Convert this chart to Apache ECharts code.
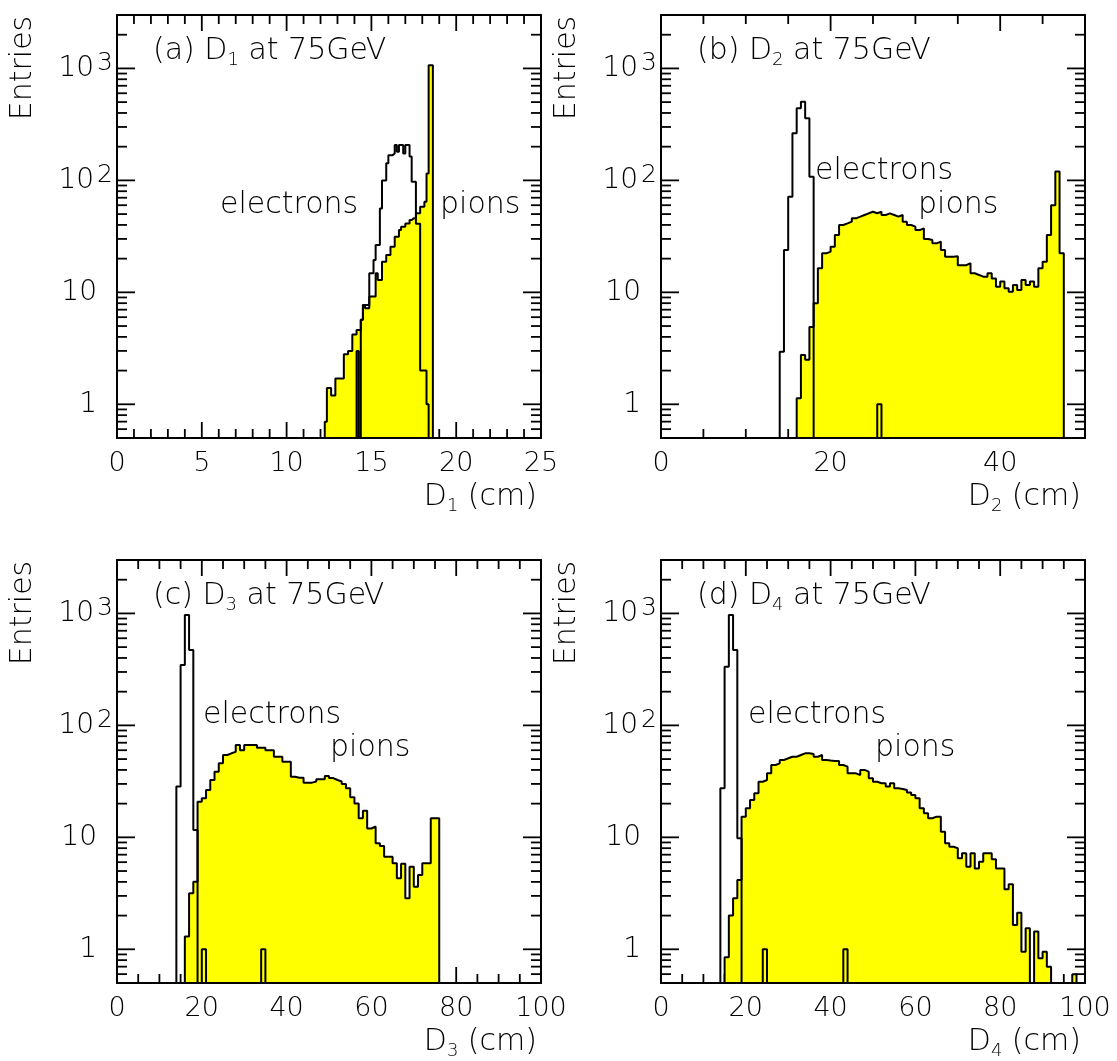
<!DOCTYPE html>
<html>
<head>
<meta charset="utf-8">
<title>D1-D4 distributions at 75 GeV</title>
<script src="https://cdn.jsdelivr.net/npm/echarts@6/dist/echarts.min.js"></script>
<style>
  html, body { margin: 0; padding: 0; background: #ffffff; }
  #chart { width: 1117px; height: 1061px; }
</style>
</head>
<body>
<div id="chart"></div>
<script>
// ---------------------------------------------------------------
// Histogram contents. Each array holds bin contents; bin i covers
// [start + i*width, start + (i+1)*width). Empty bins are 0.
// ---------------------------------------------------------------
const d1Start = 12, d1Width = 0.125;
const d1Electrons = [0,0,0,0,0,0,0,0,0,0,0,0,0,0,0,0,0, 3.0, 0, 5.7,7.7,
  7.7,7.7,14.8,14.8,19.4,26.5,26.5,56,100,100,142,168,168,174,207,180,207,207,174,207,
  207,163,97,97,41,41,2.0,2.0,2.0,1.0, 0,0,0,0,0];
const d1Pions = [0,0,0.7,1.4,1.4,1.2,1.2,1.7,1.7,1.7,1.7,2.8,2.8,3.0,3.0,4.2,4.2,4.6,4.6,5.7,
  7.7,7.2,7.2,9.2,9.2,9.2,14.8,12.9,12.9,18.8,18.8,21.5,21.5,25.6,25.6,31.4,31.4,36,38.6,38.6,
  41.3,41.3,44.3,45.8,45.8,50.8,50.8,58,58,64.5,115,1070,1070,0,0,0];

const d2Start = 14, d2Width = 0.5;
const d2Electrons = [2.95,23.9,71.5,263,440,504,358,108,
  0,0,0,0,0,0,0,0,0,0,0,0,0,0,0, 1,
  0,0,0,0,0,0,0,0,0,0,0,0,0,0,0,0,0,0,0,0,0,0,0,0,0,0,0,0,0,0,0,0,0,0,0,0,0,0,0,0,0];
const d2Pions = [0,0,0,0,
  1.13,2.76,2.5,4.9,8.0,16.4,22.3,23.1,25.6,32.5,
  39.9,41.3,42.8,45.8,47.4,49.1,50.8,52.5,50.8,52.5,
  49.1,50.8,49.1,47.4,49.1,42.8,39.9,38.6,36.0,37.3,
  30.0,29.3,27.4,28.4,23.9,20.8,20.8,21.0,17.5,17.5,
  18.2,14.8,14.3,13.8,13.8,14.8,13.3,11.2,12.5,10.9,
  10.1,11.6,10.5,12.9,11.6,12.5,11.2,16.4,18.8,32.5,
  60,120,22.3];

const d3Start = 14, d3Width = 1;
const d3Electrons = [28.4,346,968,471,11.6,0,1,
  0,0,0,0,0,0,0,0,0,0,0,0,0, 1,
  0,0,0,0,0,0,0,0,0,0,0,0,0,0,0,0,0,0,0,0,0,0,0,0,0,0,0,0,0,0,0,0,0,0,0,0,0,0,0,0,0];
const d3Pions = [0,0,1.3,3.17,4.02,20.8,22.3,26.5,32.5,38.6,
  45.8,54.4,56.3,58,66.8,60,66.8,66.8,66.8,63,
  63,60,60,52.5,52.5,47.4,47.4,34.8,34,34,
  30.8,30.8,31.5,33,33,35.3,33.8,32.5,31.5,30,
  27.4,22.8,20.1,14.8,17.3,12.0,12.5,8.84,8.37,6.72,
  6.72,5.86,4.30,5.8,2.85,5.47,3.62,4.61,5.86,5.86,
  14.8,14.8];

const d4Start = 14, d4Width = 1;
const d4Electrons = [27.4,334,968,471,9.8,0,0,0,0,0, 1,
  0,0,0,0,0,0,0,0,0,0,0,0,0,0,0,0,0,0, 1,
  0,0,0,0,0,0,0,0,0,0,0,0,0,0,0,0,0,0,0,0,0,0,0,0,0,0,0,0,0,0,0,0,0,0,0,0,0,0,
  0,0,0,0,0,0,0,0,0,0,0,0,0,0,0,0];
const d4Pions = [0,0.85,2.0,2.85,4.16,15.3,18.2,21.6,24.7,31.4,
  32.5,37.3,44.3,45.8,49.1,50.8,52.5,52.5,54.4,56.3,
  56.3,55.5,52.5,54.4,49.1,48.5,48,48,44.3,42.8,
  37.3,37.3,36,40,38.6,33.7,31.4,30.4,30.4,28.4,
  30.4,27.4,27,26.5,25.1,23.9,22.3,18.2,16.4,14.8,
  15.3,15.3,11.2,8.84,8.25,8,6.5,7.2,5.47,7.2,
  5.28,6.06,7.2,7.2,6.36,5.28,5.28,3.43,3.81,1.65,
  2.12,0.95,1.54,0,1.44,0.83,0.95,0.70,0,0,
  0,0,0,0.6];

// Axis ranges and tick labels
const yMin = 0.5, yMax = 3000;
const yTickLabels = [1, 10, 100, 1000];
const d1TickLabels = [0, 5, 10, 15, 20, 25];
const d2TickLabels = [0, 20, 40];
const d3TickLabels = [0, 20, 40, 60, 80, 100];
const d4TickLabels = [0, 20, 40, 60, 80, 100];

// ---------------------------------------------------------------
// Drawing
// ---------------------------------------------------------------
const FONT = 'DejaVu Sans';
const WEIGHT = 200;
const TEXT_SIZE = 30;
const FLOOR = 0.05;          // empty bins sit below the axis floor
const YELLOW = '#ffff00';
const X_MAJOR_LEN = 16, X_MINOR_LEN = 9, Y_MAJOR_LEN = 18, Y_MINOR_LEN = 10;
const OUTLINE = 2;

const panels = [
  { left: 117, top: 15,  xMax: 25,  labels: d1TickLabels, major: 5,  minor: 1,
    start: d1Start, width: d1Width, electrons: d1Electrons, pions: d1Pions, idx: '1', tag: 'a',
    elec: [220, 205], pion: [440, 205] },
  { left: 661, top: 15,  xMax: 50,  labels: d2TickLabels, major: 20, minor: 5,
    start: d2Start, width: d2Width, electrons: d2Electrons, pions: d2Pions, idx: '2', tag: 'b',
    elec: [815, 171], pion: [918, 205] },
  { left: 117, top: 560, xMax: 100, labels: d3TickLabels, major: 20, minor: 5,
    start: d3Start, width: d3Width, electrons: d3Electrons, pions: d3Pions, idx: '3', tag: 'c',
    elec: [203, 715], pion: [330, 748] },
  { left: 661, top: 560, xMax: 100, labels: d4TickLabels, major: 20, minor: 5,
    start: d4Start, width: d4Width, electrons: d4Electrons, pions: d4Pions, idx: '4', tag: 'd',
    elec: [748, 715], pion: [875, 748] }
];
const GRID_W = 424, GRID_H = 423;

// Step outline points: left edge of every bin, closed down to the floor on both sides.
function histPoints(start, width, values) {
  const pts = [[start, FLOOR]];
  values.forEach((v, i) => pts.push([start + i * width, v > 0 ? v : FLOOR]));
  pts.push([start + values.length * width, FLOOR]);
  return pts;
}

// Minor tick values of a log decade axis: 2..9 times each power of ten inside the range.
function logMinorTicks() {
  const out = [];
  for (let e = -1; e <= 3; e++) {
    for (let m = 2; m <= 9; m++) {
      const v = m * Math.pow(10, e);
      if (v > yMin && v < yMax) out.push(v);
    }
  }
  return out;
}

function linearTicks(step, xMax, skipStep) {
  const out = [];
  for (let v = step; v < xMax - 1e-9; v += step) {
    const r = Math.round(v * 1000) / 1000;
    if (skipStep && Math.abs(r / skipStep - Math.round(r / skipStep)) < 1e-9) continue;
    out.push(r);
  }
  return out;
}

// Inward ticks on all four sides of a frame, drawn under the histograms.
function tickSeries(i, p) {
  const ticks = [];
  linearTicks(p.major, p.xMax, 0).forEach(v => ticks.push({ axis: 'x', v, len: X_MAJOR_LEN }));
  linearTicks(p.minor, p.xMax, p.major).forEach(v => ticks.push({ axis: 'x', v, len: X_MINOR_LEN }));
  yTickLabels.forEach(v => ticks.push({ axis: 'y', v, len: Y_MAJOR_LEN }));
  logMinorTicks().filter(v => yTickLabels.indexOf(v) < 0)
    .forEach(v => ticks.push({ axis: 'y', v, len: Y_MINOR_LEN }));
  const seg = (x1, y1, x2, y2) => ({
    type: 'line', shape: { x1, y1, x2, y2 },
    style: { stroke: '#000', lineWidth: 1.8 }
  });
  return {
    type: 'custom', xAxisIndex: 2 * i, yAxisIndex: 2 * i, z: 1, silent: true, clip: false,
    data: ticks.map(t => t.axis === 'x' ? [t.v, yMin] : [0, t.v]),
    renderItem(params, api) {
      const t = ticks[params.dataIndex];
      if (t.axis === 'x') {
        const b = api.coord([t.v, yMin]), tp = api.coord([t.v, yMax]);
        return { type: 'group', children: [
          seg(b[0], b[1], b[0], b[1] - t.len), seg(tp[0], tp[1], tp[0], tp[1] + t.len)] };
      }
      const l = api.coord([0, t.v]), r = api.coord([p.xMax, t.v]);
      return { type: 'group', children: [
        seg(l[0], l[1], l[0] + t.len, l[1]), seg(r[0], r[1], r[0] - t.len, r[1])] };
    }
  };
}

const axisLineStyle = { show: true, onZero: false, lineStyle: { color: '#000', width: 2 } };
const grids = [], xAxes = [], yAxes = [], series = [], graphics = [];

const yRich = {
  n: { fontFamily: FONT, fontWeight: WEIGHT, fontSize: 28, lineHeight: 34, color: '#000' },
  e: { fontFamily: FONT, fontWeight: WEIGHT, fontSize: 25, lineHeight: 12, verticalAlign: 'top',
       color: '#000', padding: [0, 0, 0, 3] },
  p: { fontFamily: FONT, fontWeight: WEIGHT, fontSize: 28, lineHeight: 34, color: '#000',
       padding: [0, 16, 0, 0] }
};
const subRich = { s: { fontFamily: FONT, fontWeight: WEIGHT, fontSize: 18, lineHeight: 18,
                       verticalAlign: 'bottom', fill: '#000' } };

function textStyle(text, align) {
  return { text, fill: '#000', fontFamily: FONT, fontWeight: WEIGHT, fontSize: TEXT_SIZE,
           lineHeight: 36, align: align || 'left', verticalAlign: 'middle', rich: subRich };
}
function textEl(x, y, text, align) {
  return { type: 'text', x, y, silent: true, z: 20, style: textStyle(text, align) };
}

panels.forEach((p, i) => {
  grids.push({ left: p.left, top: p.top, width: GRID_W, height: GRID_H, show: false,
               outerBoundsMode: 'none', containLabel: false });

  const xBase = { type: 'value', gridIndex: i, min: 0, max: p.xMax, z: 5,
                  axisLine: axisLineStyle, axisTick: { show: false }, splitLine: { show: false } };
  xAxes.push(Object.assign({}, xBase, {
    position: 'bottom',
    axisLabel: {
      show: true, customValues: p.labels, margin: 12, color: '#000',
      fontFamily: FONT, fontWeight: WEIGHT, fontSize: 27, showMinLabel: true, showMaxLabel: true,
      formatter: v => (p.labels.indexOf(Math.round(v * 1000) / 1000) >= 0 ? String(Math.round(v)) : '')
    }
  }));
  xAxes.push(Object.assign({}, xBase, { position: 'top', axisLabel: { show: false } }));

  const yBase = { type: 'log', logBase: 10, gridIndex: i, min: yMin, max: yMax, z: 5,
                  axisLine: axisLineStyle, axisTick: { show: false }, splitLine: { show: false } };
  yAxes.push(Object.assign({}, yBase, {
    position: 'left',
    axisLabel: {
      show: true, customValues: yTickLabels, margin: 4, color: '#000',
      fontFamily: FONT, fontWeight: WEIGHT, fontSize: 28,
      showMinLabel: true, showMaxLabel: true, rich: yRich,
      formatter: v => {
        const e = Math.round(Math.log10(v));
        const dec = Math.pow(10, e);
        if (Math.abs(v - dec) > 1e-6 * dec || yTickLabels.indexOf(dec) < 0) return '';
        return e >= 2 ? '{n|10}{e|' + e + '}' : '{p|' + dec + '}';
      }
    }
  }));
  yAxes.push(Object.assign({}, yBase, { position: 'right', axisLabel: { show: false } }));

  series.push(tickSeries(i, p));
  series.push({
    name: 'pions', type: 'line', xAxisIndex: 2 * i, yAxisIndex: 2 * i, z: 2,
    step: 'end', symbol: 'none', clip: true, silent: true,
    data: histPoints(p.start, p.width, p.pions),
    lineStyle: { color: '#000', width: OUTLINE },
    areaStyle: { color: YELLOW, opacity: 1, origin: 'start' }
  });
  series.push({
    name: 'electrons', type: 'line', xAxisIndex: 2 * i, yAxisIndex: 2 * i, z: 3,
    step: 'end', symbol: 'none', clip: true, silent: true,
    data: histPoints(p.start, p.width, p.electrons),
    lineStyle: { color: '#000', width: OUTLINE }
  });

  // Texts inside and around the frame
  graphics.push(textEl(p.left + 36, p.top + 36, '(' + p.tag + ') D{s|' + p.idx + '} at 75GeV'));
  graphics.push(textEl(p.elec[0], p.elec[1], 'electrons'));
  graphics.push(textEl(p.pion[0], p.pion[1], 'pions'));
  graphics.push(textEl(p.left + GRID_W - 4, p.top + GRID_H + 59, 'D{s|' + p.idx + '} (cm)', 'right'));
  graphics.push({
    type: 'text', x: p.left - 94, y: p.top + 53, rotation: Math.PI / 2, silent: true, z: 20,
    style: { text: 'Entries', fill: '#000', fontFamily: FONT, fontWeight: WEIGHT, fontSize: TEXT_SIZE,
             align: 'center', verticalAlign: 'middle' }
  });
});

const chart = echarts.init(document.getElementById('chart'), null, { renderer: 'canvas' });
chart.setOption({
  animation: false,
  backgroundColor: '#ffffff',
  grid: grids,
  xAxis: xAxes,
  yAxis: yAxes,
  series: series,
  graphic: graphics
});
</script>
</body>
</html>
